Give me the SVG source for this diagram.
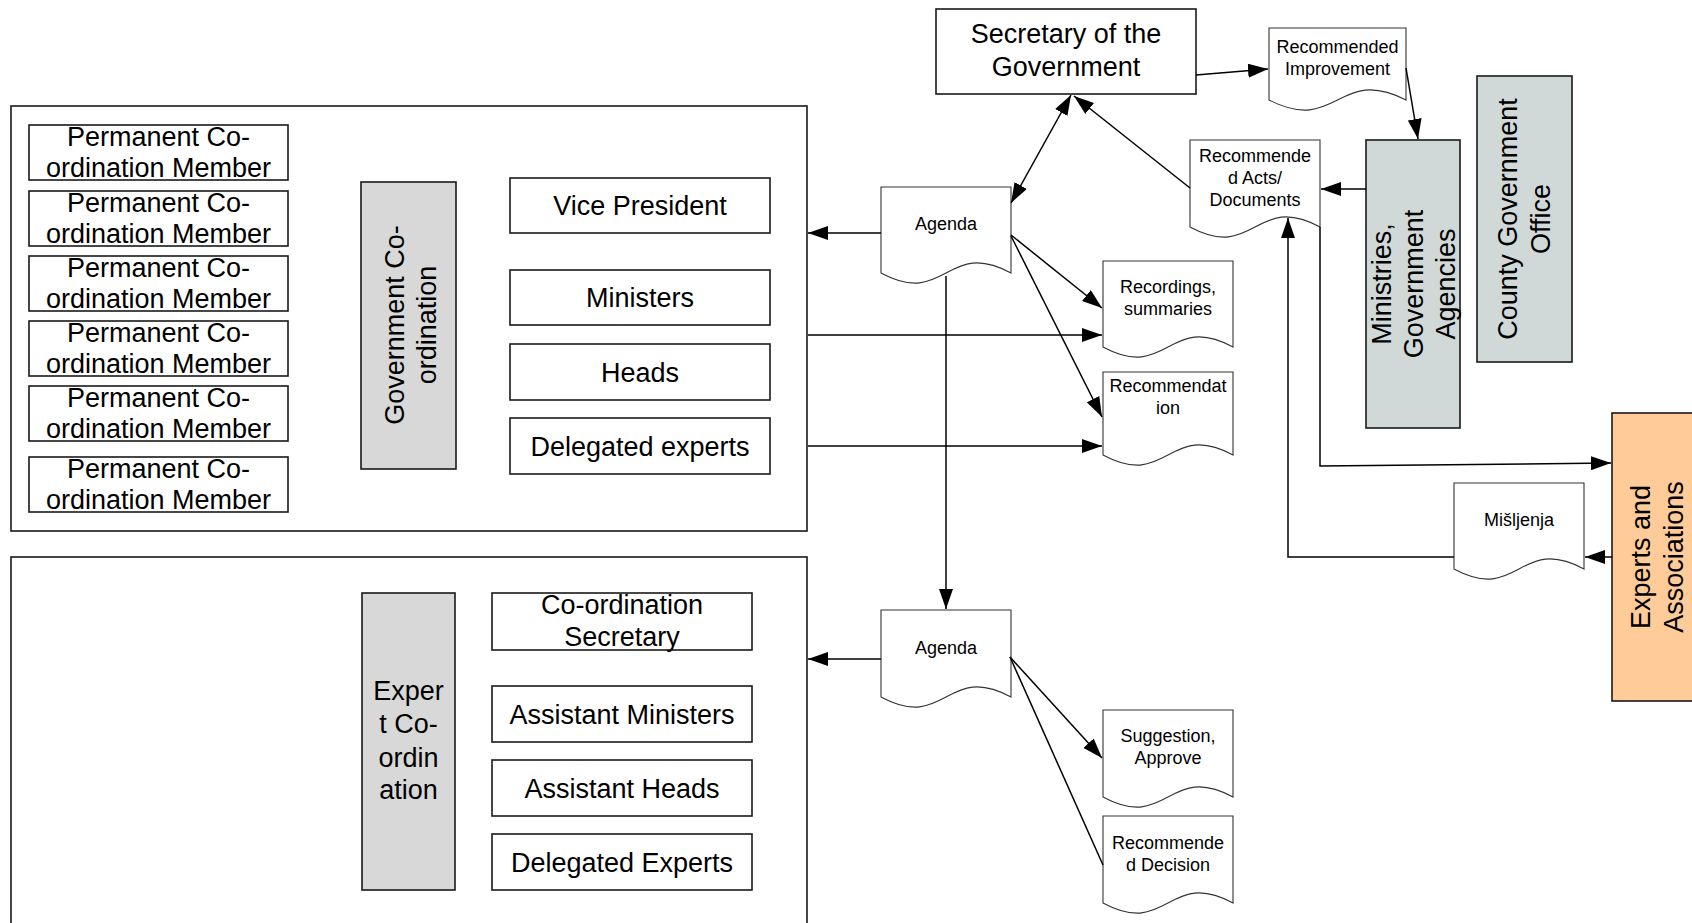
<svg xmlns="http://www.w3.org/2000/svg" width="1692" height="923" viewBox="0 0 1692 923">
<defs>
<marker id="arr" markerUnits="userSpaceOnUse" markerWidth="20" markerHeight="14" refX="20" refY="7" orient="auto-start-reverse" viewBox="0 0 20 14">
<path d="M0,0 L20,7 L0,14 Z" fill="#000"/>
</marker>
<style>
.box{fill:#fff;stroke:#1a1a1a;stroke-width:1.6}
.frame{fill:none;stroke:#1a1a1a;stroke-width:1.6}
.gray{fill:#d8d8d8;stroke:#1a1a1a;stroke-width:1.6}
.blue{fill:#d1d9d8;stroke:#1a1a1a;stroke-width:1.6}
.peach{fill:#ffcc99;stroke:#1a1a1a;stroke-width:1.6}
.doc{fill:#fff;stroke:#333;stroke-width:1.1}
.t{font-family:"Liberation Sans",Arial,sans-serif;font-size:27px;fill:#000;text-anchor:middle}
.d{font-family:"Liberation Sans",Arial,sans-serif;font-size:18px;fill:#000;text-anchor:middle}
.c{fill:none;stroke:#000;stroke-width:1.5}
.ca{fill:none;stroke:#000;stroke-width:1.5;marker-end:url(#arr)}
</style>
</defs>

<g id="frame-government">
<rect class="frame" x="11" y="106" width="796" height="425"/>
</g>
<g id="frame-expert">
<rect class="frame" x="11" y="557" width="796" height="380"/>
</g>

<g id="member1"><rect class="box" x="29" y="125" width="259" height="55"/><text class="t" x="158.5" y="146">Permanent Co-</text><text class="t" x="158.5" y="177">ordination Member</text></g>
<g id="member2"><rect class="box" x="29" y="191" width="259" height="55"/><text class="t" x="158.5" y="212">Permanent Co-</text><text class="t" x="158.5" y="243">ordination Member</text></g>
<g id="member3"><rect class="box" x="29" y="256" width="259" height="55"/><text class="t" x="158.5" y="277">Permanent Co-</text><text class="t" x="158.5" y="308">ordination Member</text></g>
<g id="member4"><rect class="box" x="29" y="321" width="259" height="55"/><text class="t" x="158.5" y="342">Permanent Co-</text><text class="t" x="158.5" y="373">ordination Member</text></g>
<g id="member5"><rect class="box" x="29" y="386" width="259" height="55"/><text class="t" x="158.5" y="407">Permanent Co-</text><text class="t" x="158.5" y="438">ordination Member</text></g>
<g id="member6"><rect class="box" x="29" y="457" width="259" height="55"/><text class="t" x="158.5" y="478">Permanent Co-</text><text class="t" x="158.5" y="509">ordination Member</text></g>

<g id="gov-coordination">
<rect class="gray" x="361" y="182" width="95" height="287"/>
<text class="t" transform="translate(408.5,325) rotate(-90)"><tspan x="0" y="-5">Government Co-</tspan><tspan x="0" y="27">ordination</tspan></text>
</g>

<g id="vice-president"><rect class="box" x="510" y="178" width="260" height="55"/><text class="t" x="640" y="215">Vice President</text></g>
<g id="ministers"><rect class="box" x="510" y="270" width="260" height="55"/><text class="t" x="640" y="307">Ministers</text></g>
<g id="heads"><rect class="box" x="510" y="344" width="260" height="56"/><text class="t" x="640" y="381.5">Heads</text></g>
<g id="delegated-experts"><rect class="box" x="510" y="418" width="260" height="56"/><text class="t" x="640" y="455.5">Delegated experts</text></g>

<g id="expert-coordination">
<rect class="gray" x="362" y="593" width="93" height="297"/>
<text class="t" x="408.5" y="700">Exper</text>
<text class="t" x="408.5" y="733">t Co-</text>
<text class="t" x="408.5" y="767">ordin</text>
<text class="t" x="408.5" y="799">ation</text>
</g>

<g id="coordination-secretary"><rect class="box" x="492" y="593" width="260" height="57"/><text class="t" x="622" y="614">Co-ordination</text><text class="t" x="622" y="646">Secretary</text></g>
<g id="assistant-ministers"><rect class="box" x="492" y="686" width="260" height="56"/><text class="t" x="622" y="723.5">Assistant Ministers</text></g>
<g id="assistant-heads"><rect class="box" x="492" y="760" width="260" height="56"/><text class="t" x="622" y="797.5">Assistant Heads</text></g>
<g id="delegated-experts-2"><rect class="box" x="492" y="834" width="260" height="56"/><text class="t" x="622" y="871.5">Delegated Experts</text></g>

<g id="secretary"><rect class="box" x="936" y="9" width="260" height="85"/><text class="t" x="1066" y="43">Secretary of the</text><text class="t" x="1066" y="76">Government</text></g>

<g id="ministries">
<rect class="blue" x="1366" y="140" width="94" height="288"/>
<text class="t" transform="translate(1413,284) rotate(-90)"><tspan x="0" y="-22.5">Ministries,</tspan><tspan x="0" y="9.5">Government</tspan><tspan x="0" y="41.5">Agencies</tspan></text>
</g>

<g id="county-office">
<rect class="blue" x="1477" y="76" width="95" height="286"/>
<text class="t" transform="translate(1524,219) rotate(-90)"><tspan x="0" y="-7">County Government</tspan><tspan x="0" y="26">Office</tspan></text>
</g>

<g id="experts-associations">
<rect class="peach" x="1612" y="413" width="98" height="288"/>
<text class="t" transform="translate(1660,557) rotate(-90)"><tspan x="0" y="-10">Experts and</tspan><tspan x="0" y="23">Associations</tspan></text>
</g>

<g id="doc-rec-improvement">
<path class="doc" d="M1269,28 H1406 V100 C1337.5,65 1337.5,135 1269,100 Z"/>
<text class="d" x="1337.5" y="53">Recommended</text><text class="d" x="1337.5" y="75">Improvement</text>
</g>
<g id="doc-agenda-1">
<path class="doc" d="M881,187 H1011 V273 C946,238 946,308 881,273 Z"/>
<text class="d" x="946" y="230">Agenda</text>
</g>
<g id="doc-rec-acts">
<path class="doc" d="M1190,140 H1320 V227 C1255,192 1255,262 1190,227 Z"/>
<text class="d" x="1255" y="162">Recommende</text><text class="d" x="1255" y="184">d Acts/</text><text class="d" x="1255" y="206">Documents</text>
</g>
<g id="doc-recordings">
<path class="doc" d="M1103,261 H1233 V347 C1168,312 1168,382 1103,347 Z"/>
<text class="d" x="1168" y="293">Recordings,</text><text class="d" x="1168" y="315">summaries</text>
</g>
<g id="doc-recommendation">
<path class="doc" d="M1103,372 H1233 V455 C1168,420 1168,490 1103,455 Z"/>
<text class="d" x="1168" y="392">Recommendat</text><text class="d" x="1168" y="414">ion</text>
</g>
<g id="doc-agenda-2">
<path class="doc" d="M881,610 H1011 V697 C946,662 946,732 881,697 Z"/>
<text class="d" x="946" y="654">Agenda</text>
</g>
<g id="doc-suggestion">
<path class="doc" d="M1103,710 H1233 V797 C1168,762 1168,832 1103,797 Z"/>
<text class="d" x="1168" y="742">Suggestion,</text><text class="d" x="1168" y="764">Approve</text>
</g>
<g id="doc-rec-decision">
<path class="doc" d="M1103,816 H1233 V903 C1168,868 1168,938 1103,903 Z"/>
<text class="d" x="1168" y="849">Recommende</text><text class="d" x="1168" y="871">d Decision</text>
</g>
<g id="doc-misljenja">
<path class="doc" d="M1454,483 H1584 V569 C1519,534 1519,604 1454,569 Z"/>
<text class="d" x="1519" y="526">Mišljenja</text>
</g>

<g id="connectors">
<path class="ca" d="M1196,75 L1268,69"/>
<path class="ca" d="M1406,68 L1418,139"/>
<path class="ca" d="M1071,95 L1011,203" marker-start="url(#arr)"/>
<path class="ca" d="M1190,188 L1074,96"/>
<path class="ca" d="M881,233 L808,233"/>
<path class="ca" d="M1011,235 L1102,308"/>
<path class="ca" d="M1011,236 L1102,417"/>
<path class="ca" d="M808,335 L1102,335"/>
<path class="ca" d="M808,446 L1102,446"/>
<path class="ca" d="M946,276 L946,609"/>
<path class="ca" d="M881,659 L808,659"/>
<path class="ca" d="M1010,657 L1102,758"/>
<path class="c" d="M1010,657 L1103,865"/>
<path class="ca" d="M1366,189 L1321,189"/>
<path class="ca" d="M1454,557 L1288,557 L1288,218"/>
<path class="ca" d="M1320,227 L1320,466 L1611,463"/>
<path class="ca" d="M1612,557 L1585,557"/>
</g>
</svg>
